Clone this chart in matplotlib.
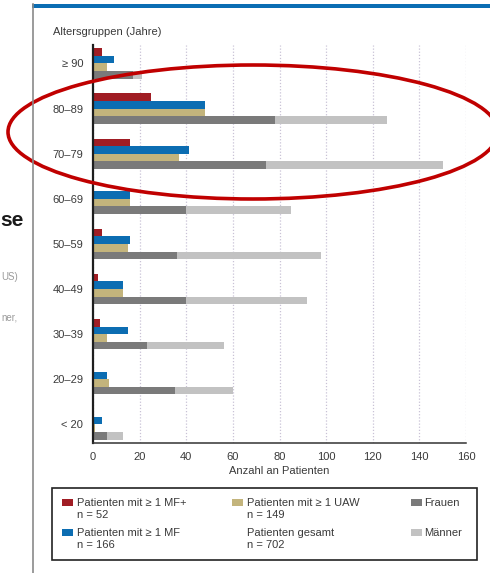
import matplotlib.pyplot as plt
from matplotlib.patches import Ellipse, Rectangle
import numpy as np

plt.rcParams['font.family'] = ['Liberation Sans', 'DejaVu Sans']

# Altersgruppen, von oben nach unten
groups = ['≥ 90', '80–89', '70–79', '60–69', '50–59', '40–49', '30–39', '20–29', '< 20']
mf_plus = [4, 25, 16, 0, 4, 2, 3, 0, 0]
mf = [9, 48, 41, 16, 16, 13, 15, 6, 4]
uaw = [6, 48, 37, 16, 15, 13, 6, 7, 1]
frauen = [17, 78, 74, 40, 36, 40, 23, 35, 6]
maenner = [4, 48, 76, 45, 62, 52, 33, 25, 7]
xticks = [0, 20, 40, 60, 80, 100, 120, 140, 160]

RED = '#a01d24'
BLUE = '#0c6db2'
TAN = '#c3b47c'
DGRAY = '#7a7a7a'
LGRAY = '#c2c2c2'
TXT = '#3a3a3a'

W, H = 490, 573
fx = lambda x: x / W
fy = lambda y: 1 - y / H

fig = plt.figure(figsize=(W / 100, H / 100), dpi=100)

# slide decoration: blue top band, gray left border, cut-off slide text
fig.add_artist(Rectangle((fx(32), fy(8.3)), fx(490) - fx(32), fy(4) - fy(8.3),
                         transform=fig.transFigure, color='#0a6db3', lw=0))
fig.add_artist(plt.Line2D([fx(33), fx(33)], [fy(4), 0], transform=fig.transFigure,
                          color='#8a8a8a', lw=1.2))
fig.text(fx(0.5), fy(221), 'se', ha='left', va='center', fontsize=15, fontweight='bold',
         color='#1a1a1a')
fig.text(fx(1), fy(277), 'US)', ha='left', va='center', fontsize=7, color='#9a9a9a')
fig.text(fx(1), fy(318), 'ner,', ha='left', va='center', fontsize=7, color='#9a9a9a')

ax = fig.add_axes([fx(93), fy(443.3), fx(466) - fx(93), fy(45) - fy(443.3)])
y = np.arange(len(groups))
h = 0.168
ax.barh(y - 1.5 * h, mf_plus, height=h, color=RED)
ax.barh(y - 0.5 * h, mf, height=h, color=BLUE)
ax.barh(y + 0.5 * h, uaw, height=h, color=TAN)
ax.barh(y + 1.5 * h, frauen, height=h, color=DGRAY)
ax.barh(y + 1.5 * h, maenner, left=frauen, height=h, color=LGRAY)

ax.set_xlim(0, 160)
ax.set_ylim(8.42, -0.41)
ax.set_xticks(xticks)
ax.set_yticks(y, groups)
ax.tick_params(axis='y', length=0, pad=7, labelsize=8, labelcolor=TXT)
ax.tick_params(axis='x', length=0, pad=6, labelsize=8, labelcolor=TXT)
ax.grid(axis='x', color='#c9c2d6', lw=0.9, linestyle=(0, (1, 1.5)))
ax.set_axisbelow(True)
for s in ('top', 'right'):
    ax.spines[s].set_visible(False)
ax.spines['left'].set_color('#1e1e1e')
ax.spines['left'].set_linewidth(1.6)
ax.spines['bottom'].set_color('#333333')
ax.spines['bottom'].set_linewidth(1.1)
ax.set_xlabel('Anzahl an Patienten', fontsize=8, color=TXT, labelpad=3)

fig.text(fx(53), fy(32), 'Altersgruppen (Jahre)', va='center', fontsize=8, color=TXT)

# legend box
fig.add_artist(Rectangle((fx(52), fy(560)), fx(477) - fx(52), fy(488) - fy(560),
                         transform=fig.transFigure, fill=False, ec='#222222', lw=1.2))
entries = [
    (62, 502.5, RED, 'Patienten mit ≥ 1 MF+', 'n = 52'),
    (62, 532.5, BLUE, 'Patienten mit ≥ 1 MF', 'n = 166'),
    (232, 502.5, TAN, 'Patienten mit ≥ 1 UAW', 'n = 149'),
    (232, 532.5, None, 'Patienten gesamt', 'n = 702'),
    (411, 502.5, DGRAY, 'Frauen', None),
    (411, 532.5, LGRAY, 'Männer', None),
]
for x0, yc, col, l1, l2 in entries:
    if col is not None:
        fig.add_artist(Rectangle((fx(x0), fy(yc + 3.5)), fx(11) - fx(0), fy(0) - fy(7),
                                 transform=fig.transFigure, color=col, lw=0))
    tx = x0 + 14.5 if x0 < 400 else x0 + 13
    fig.text(fx(tx), fy(yc), l1, va='center', fontsize=8, color=TXT)
    if l2:
        fig.text(fx(tx), fy(yc + 13), l2, va='center', fontsize=8, color=TXT)

# red annotation ellipse
fig.add_artist(Ellipse((fx(253), fy(132)), 2 * 245 / W, 2 * 67 / H, transform=fig.transFigure,
                       fill=False, ec='#c00000', lw=2.6))

fig.savefig('out.png', dpi=100)
